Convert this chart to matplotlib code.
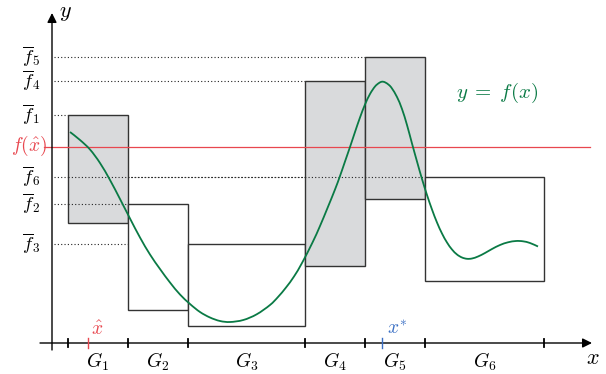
import matplotlib
matplotlib.use("Agg")
import matplotlib.pyplot as plt
import numpy as np
from matplotlib.patches import Rectangle, PathPatch
from matplotlib.path import Path

plt.rcParams['mathtext.fontset'] = 'cm'
plt.rcParams['font.family'] = ['DejaVu Serif']

# Data (x measured right of the y-axis, y measured up from the x-axis)
edges = [16, 76, 136, 253, 313, 373, 492]
box_names = ["G_1", "G_2", "G_3", "G_4", "G_5", "G_6"]
box_top = [228, 139, 99, 262, 286, 166]
box_bottom = [120, 33, 17, 77, 144, 62]
box_gray = [True, False, False, True, True, False]
fbar_names = ["1", "2", "3", "4", "5", "6"]
f_hat = 196
x_hat = 36
x_star = 330

curve_x = [18, 28, 38, 48, 58, 68, 78, 88, 98, 108, 118, 128, 138, 148, 158, 168, 178,
           191.3, 204.7, 218, 226, 234, 242, 250, 260.5, 268, 275.5, 283, 288, 293, 298,
           303, 308, 313, 318, 323, 327, 330, 333, 337, 340, 345, 350, 355, 360, 365,
           370, 375, 380, 385, 390, 395, 400, 405, 410, 415, 420, 426, 433, 440, 448,
           456, 464, 471, 478, 486]
curve_y = [211, 203, 193.5, 180, 163, 144, 124.5, 105.5, 88.5, 74, 60.5, 48.5, 39, 31, 25.5, 22, 21,
           23, 28.7, 38, 46, 55.5, 66.5, 80, 100.5, 117, 135, 153.5, 167, 181.5, 196,
           211, 225.5, 238.5, 249, 256.5, 260, 261.3, 260.7, 258, 254.5, 246, 234, 218, 199.5, 181.5,
           164, 148, 133.5, 120.5, 109.5, 100.5, 93.5, 88.5, 85.5, 84.2, 84.5, 86.5, 90, 94, 98,
           100.7, 102, 101.7, 100, 96.5]

fig = plt.figure(figsize=(6.06, 3.74), dpi=100)
ax = fig.add_axes([0, 0, 1, 1])
ax.set_xlim(-52, 554)
ax.set_ylim(-31, 343)
ax.axis('off')

gray = '#d9dadc'
edge = '#333333'
green = '#0a7a45'
red = '#e8474f'
blue = '#3a6fc4'

# boxes
for i in range(6):
    x0, x1 = edges[i], edges[i + 1]
    ax.add_patch(Rectangle((x0, box_bottom[i]), x1 - x0, box_top[i] - box_bottom[i],
                           facecolor=gray if box_gray[i] else 'white',
                           edgecolor=edge, lw=1.0, zorder=2))

# dotted level lines
for i in range(6):
    ax.plot([2, edges[i]], [box_top[i], box_top[i]], ls=(0, (1, 2)), color='#222222', lw=0.8, zorder=1)
    if i in (1, 5):
        ax.plot([edges[0], edges[i]], [box_top[i], box_top[i]], ls=(0, (1, 2)),
                color='#222222', lw=0.8, zorder=3)
    ax.text(-21, box_top[i] + 1, r'$\overline{f}_{%s}$' % fbar_names[i], fontsize=13.5,
            ha='center', va='center')

# red line f(x_hat)
ax.plot([-8, 538], [f_hat, f_hat], color=red, lw=0.9, zorder=4)
ax.text(-5, f_hat + 1, r'$f(\hat{x})$', color=red, fontsize=14, ha='right', va='center')

# curve: smooth path through the read points (Catmull-Rom drawn as Bezier segments)
P = np.column_stack([curve_x, curve_y])
Pe = np.vstack([P[0], P, P[-1]])
verts = [tuple(P[0])]
codes = [Path.MOVETO]
for i in range(1, len(Pe) - 2):
    p0, p1, p2, p3 = Pe[i - 1], Pe[i], Pe[i + 1], Pe[i + 2]
    c1 = p1 + (p2 - p0) / 6.0
    c2 = p2 - (p3 - p1) / 6.0
    verts += [tuple(c1), tuple(c2), tuple(p2)]
    codes += [Path.CURVE4] * 3
ax.add_patch(PathPatch(Path(verts, codes), facecolor='none', edgecolor=green, lw=1.3, zorder=5))
ax.text(445, 250, r'$y\;=\;f(x)$', color=green, fontsize=15, ha='center', va='center')

# axes with arrows
ax.annotate('', xy=(540, 0), xytext=(-12, 0),
            arrowprops=dict(arrowstyle='-|>', color='black', lw=1.0, mutation_scale=14,
                            shrinkA=0, shrinkB=0), zorder=6)
ax.annotate('', xy=(0, 330), xytext=(0, -7),
            arrowprops=dict(arrowstyle='-|>', color='black', lw=1.0, mutation_scale=14,
                            shrinkA=0, shrinkB=0), zorder=6)
ax.text(541, -15, r'$x$', fontsize=16, ha='center', va='center')
ax.text(13, 331, r'$y$', fontsize=16, ha='center', va='center')

# ticks
for e in edges:
    ax.plot([e, e], [-4, 4], color='black', lw=1.3, zorder=7)
ax.plot([x_hat, x_hat], [-5, 5], color=red, lw=1.0, zorder=7)
ax.text(x_hat + 9, 13, r'$\hat{x}$', color=red, fontsize=14, ha='center', va='center')
ax.plot([x_star, x_star], [-5, 5], color=blue, lw=1.0, zorder=7)
ax.text(x_star + 15, 13, r'$x^{*}$', color=blue, fontsize=14, ha='center', va='center')

for i in range(6):
    ax.text((edges[i] + edges[i + 1]) / 2, -19, r'$%s$' % box_names[i], fontsize=14,
            ha='center', va='center')

fig.savefig('out.png', dpi=100)
